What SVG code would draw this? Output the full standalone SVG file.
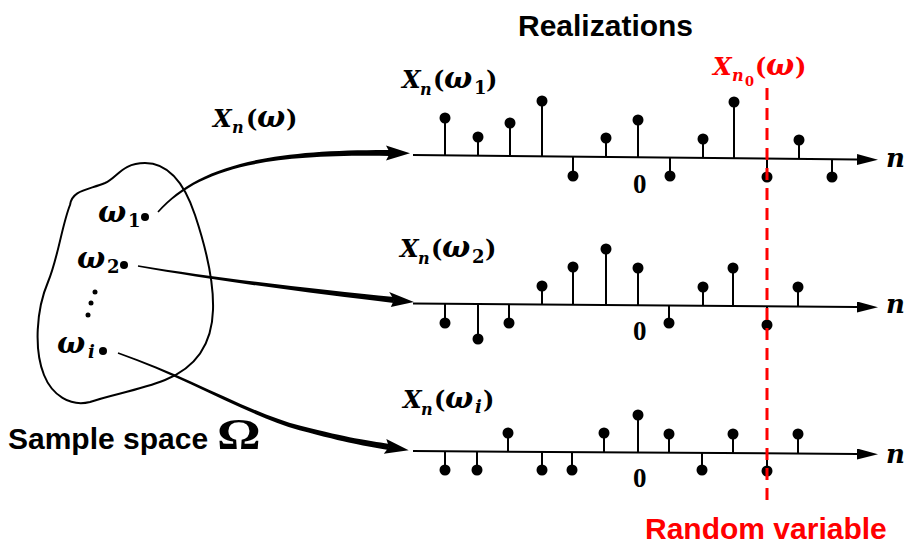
<svg xmlns="http://www.w3.org/2000/svg" width="910" height="544" viewBox="0 0 910 544">
<style>
.m{font-family:"DejaVu Serif",serif;font-weight:bold;font-style:italic;font-size:24px;fill:#000}
.w{font-family:"DejaVu Serif",serif;font-weight:bold;font-style:italic;font-size:27px;fill:#000}
.up{font-style:normal}
.sub{font-size:18px}
.subn{font-size:16px}
.subu{font-size:18px;font-style:normal}
.red{fill:#ff0000}
.sans{font-family:"Liberation Sans",Arial,sans-serif;font-weight:bold;font-size:30px}
.zero{font-family:"Liberation Serif",serif;font-weight:bold;font-size:27px}
.ax{stroke:#000;stroke-width:2;fill:none}
.stem{stroke:#000;stroke-width:2}
.dot{fill:#000}
.conn{fill:#000;stroke:none}
.blob{fill:none;stroke:#000;stroke-width:2}
</style>
<defs>
<marker id="axh" markerUnits="userSpaceOnUse" markerWidth="22" markerHeight="12" refX="0" refY="5.5" orient="auto">
<path d="M0,0 L21,5.5 L0,11 Z" fill="#000"/>
</marker>
</defs>

<g id="title"><text class="sans" x="518" y="36">Realizations</text></g>

<g id="sample-space">
<path class="blob" d="M70,205 C72,190 88,190 105,183 C118,177 122,163 145,163 C170,163 185,185 195,215 C205,245 214,280 213,310 C212,345 195,368 165,380 C140,390 110,395 90,402 C70,407 52,395 44,375 C34,350 36,310 48,282 C58,258 62,225 70,205 Z"/>
<circle class="dot" cx="145" cy="217" r="4"/>
<circle class="dot" cx="124" cy="265" r="4"/>
<circle class="dot" cx="103" cy="351" r="4"/>
<circle class="dot" cx="95" cy="292" r="2.5"/>
<circle class="dot" cx="91" cy="303" r="2.5"/>
<circle class="dot" cx="88" cy="315" r="2.5"/>
<text class="w" transform="translate(98,222) scale(1.1,1.1)">ω</text>
<text class="m subu" x="128" y="227">1</text>
<text class="w" transform="translate(77,268) scale(1.1,1.1)">ω</text>
<text class="m subu" x="107" y="273">2</text>
<text class="w" transform="translate(57,353) scale(1.1,1.1)">ω</text>
<text class="m sub" x="88" y="358">i</text>
<text class="sans" x="8" y="449">Sample space</text>
<text transform="translate(217,449) scale(1.3,1.05)" style="font-family:'Liberation Serif',serif;font-weight:bold;font-size:42px">Ω</text>
</g>

<g id="map-label">
<text class="m"><tspan x="213" y="127">X</tspan><tspan class="subn" x="232" y="133">n</tspan><tspan class="up" x="246" y="127">(</tspan></text>
<text class="w" transform="translate(257,127) scale(1.1,1.1)">ω</text>
<text class="m up" x="286" y="127">)</text>
</g>

<g id="connectors">
<path class="conn" d="M157.4,211.5 C198.9,164 270,149.7 390,150 L390,156 C270,154.3 201.1,166 158.6,212.5 Z"/>
<path class="conn" d="M386,145.5 L410,153.2 L386,160.5 L390,153 Z"/>
<path class="conn" d="M138.13,265.2 C220.25,278.5 320.25,289.7 394.3,297 L393.7,303 C319.75,294.3 219.75,281.5 137.87,266.8 Z"/>
<path class="conn" d="M389.2,292.1 L413.9,302.1 L390.8,307.1 L394,300 Z"/>
<path class="conn" d="M118.26,352.24 C190.39,376.87 250.45,413.26 300.55,425.87 C350.63,438.58 365.46,440.24 389.49,444.04 L388.51,449.96 C364.54,445.76 349.37,443.42 299.45,430.13 C249.55,416.74 189.61,379.13 117.74,353.76 Z"/>
<path class="conn" d="M386.3,438.9 L408.7,450.3 L383.8,453.7 L389,447 Z"/>
</g>

<g id="realization-1">
<text class="m"><tspan x="402" y="88">X</tspan><tspan class="subn" x="420" y="95">n</tspan><tspan class="up" x="433" y="88">(</tspan></text>
<text class="w" transform="translate(444,88) scale(1.1,1.1)">ω</text>
<text class="m up"><tspan class="subu" x="474" y="94">1</tspan><tspan x="486" y="88">)</tspan></text>
<path class="ax" marker-end="url(#axh)" d="M413,155 L857,159.5"/>
<text class="m" x="886" y="167" style="font-size:26px">n</text>
<text class="zero" x="633" y="193">0</text>
<g class="stem">
<line x1="445" y1="155.3" x2="445" y2="118"/><line x1="478" y1="155.7" x2="478" y2="137"/><line x1="510" y1="156" x2="510" y2="123"/><line x1="542" y1="156.3" x2="542" y2="101"/><line x1="573" y1="156.6" x2="573" y2="176"/><line x1="606" y1="157" x2="606" y2="138"/><line x1="638" y1="157.3" x2="638" y2="120"/><line x1="670" y1="157.6" x2="670" y2="176"/><line x1="703" y1="157.9" x2="703" y2="139"/><line x1="734" y1="158.2" x2="734" y2="102"/><line x1="767" y1="158.5" x2="767" y2="177"/><line x1="799" y1="158.9" x2="799" y2="140"/><line x1="832" y1="159.2" x2="832" y2="177"/>
</g>
<g class="dot">
<circle cx="445" cy="118" r="5.5"/><circle cx="478" cy="137" r="5.5"/><circle cx="510" cy="123" r="5.5"/><circle cx="542" cy="101" r="5.5"/><circle cx="573" cy="176" r="5.5"/><circle cx="606" cy="138" r="5.5"/><circle cx="638" cy="120" r="5.5"/><circle cx="670" cy="176" r="5.5"/><circle cx="703" cy="139" r="5.5"/><circle cx="734" cy="102" r="5.5"/><circle cx="767" cy="177" r="5.5"/><circle cx="799" cy="140" r="5.5"/><circle cx="832" cy="177" r="5.5"/>
</g>
</g>

<g id="realization-2">
<text class="m"><tspan x="400" y="257">X</tspan><tspan class="subn" x="418" y="264">n</tspan><tspan class="up" x="431" y="257">(</tspan></text>
<text class="w" transform="translate(442,257) scale(1.1,1.1)">ω</text>
<text class="m up"><tspan class="subu" x="472" y="263">2</tspan><tspan x="485" y="257">)</tspan></text>
<path class="ax" marker-end="url(#axh)" d="M413,303.5 L857,307"/>
<text class="m" x="886" y="313" style="font-size:26px">n</text>
<text class="zero" x="633" y="340">0</text>
<g class="stem">
<line x1="445" y1="303.8" x2="445" y2="323"/><line x1="478" y1="304" x2="478" y2="339"/><line x1="509" y1="304.3" x2="509" y2="323"/><line x1="542" y1="304.5" x2="542" y2="286"/><line x1="573" y1="304.8" x2="573" y2="267"/><line x1="606" y1="305" x2="606" y2="249"/><line x1="638" y1="305.3" x2="638" y2="268"/><line x1="669" y1="305.5" x2="669" y2="323"/><line x1="703" y1="305.8" x2="703" y2="287"/><line x1="733" y1="306" x2="733" y2="268"/><line x1="767" y1="306.3" x2="767" y2="325"/><line x1="798" y1="306.5" x2="798" y2="287"/>
</g>
<g class="dot">
<circle cx="445" cy="323" r="5.5"/><circle cx="478" cy="339" r="5.5"/><circle cx="509" cy="323" r="5.5"/><circle cx="542" cy="286" r="5.5"/><circle cx="573" cy="267" r="5.5"/><circle cx="606" cy="249" r="5.5"/><circle cx="638" cy="268" r="5.5"/><circle cx="669" cy="323" r="5.5"/><circle cx="703" cy="287" r="5.5"/><circle cx="733" cy="268" r="5.5"/><circle cx="767" cy="325" r="5.5"/><circle cx="798" cy="287" r="5.5"/>
</g>
</g>

<g id="realization-i">
<text class="m"><tspan x="403" y="408">X</tspan><tspan class="subn" x="421" y="415">n</tspan><tspan class="up" x="434" y="408">(</tspan></text>
<text class="w" transform="translate(445,408) scale(1.1,1.1)">ω</text>
<text class="m"><tspan class="sub" x="475" y="413">i</tspan><tspan class="up" x="483" y="408">)</tspan></text>
<path class="ax" marker-end="url(#axh)" d="M413,451 L857,454"/>
<text class="m" x="886" y="463" style="font-size:26px">n</text>
<text class="zero" x="633" y="487">0</text>
<g class="stem">
<line x1="445" y1="451.2" x2="445" y2="470"/><line x1="477" y1="451.4" x2="477" y2="470"/><line x1="508" y1="451.6" x2="508" y2="433"/><line x1="542" y1="451.9" x2="542" y2="470"/><line x1="572" y1="452.1" x2="572" y2="470"/><line x1="604" y1="452.3" x2="604" y2="433"/><line x1="638" y1="452.5" x2="638" y2="415"/><line x1="669" y1="452.7" x2="669" y2="434"/><line x1="702" y1="452.9" x2="702" y2="470"/><line x1="733" y1="453.1" x2="733" y2="434"/><line x1="767" y1="453.4" x2="767" y2="471"/><line x1="798" y1="453.6" x2="798" y2="434"/>
</g>
<g class="dot">
<circle cx="445" cy="470" r="5.5"/><circle cx="477" cy="470" r="5.5"/><circle cx="508" cy="433" r="5.5"/><circle cx="542" cy="470" r="5.5"/><circle cx="572" cy="470" r="5.5"/><circle cx="604" cy="433" r="5.5"/><circle cx="638" cy="415" r="5.5"/><circle cx="669" cy="434" r="5.5"/><circle cx="702" cy="470" r="5.5"/><circle cx="733" cy="434" r="5.5"/><circle cx="767" cy="471" r="5.5"/><circle cx="798" cy="434" r="5.5"/>
</g>
</g>

<g id="random-variable">
<line x1="767" y1="88" x2="767" y2="508" stroke="#ff0000" stroke-width="3" stroke-dasharray="12 8"/>
<text class="m red"><tspan x="713" y="75">X</tspan><tspan class="subn" x="732" y="81">n</tspan><tspan class="subu" x="745" y="86" style="font-size:13px">0</tspan><tspan class="up" x="755" y="75">(</tspan></text>
<text class="w red" transform="translate(766,75) scale(1.1,1.1)">ω</text>
<text class="m up red" x="795" y="75">)</text>
<text class="sans red" x="645" y="539">Random variable</text>
</g>
</svg>
